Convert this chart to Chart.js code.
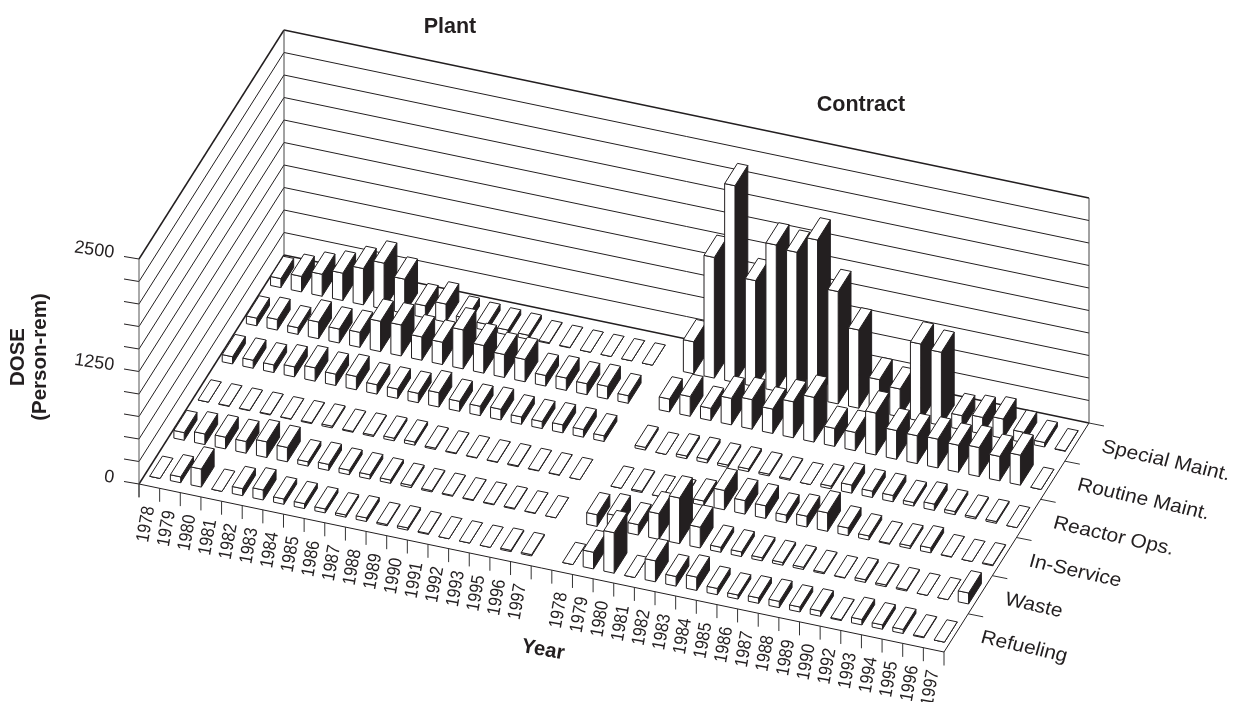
<!DOCTYPE html>
<html><head><meta charset="utf-8">
<style>html,body{margin:0;padding:0;background:#fff}canvas{display:block}</style>
<script src="https://cdn.jsdelivr.net/npm/chart.js@4"></script>
</head><body><canvas id="c" width="1233" height="702"></canvas>
<script>
const plantYears=[1978,1979,1980,1981,1982,1983,1984,1985,1986,1987,1988,1989,1990,1991,1992,1993,1995,1996,1997];
const contractYears=[1978,1979,1980,1981,1982,1983,1984,1985,1986,1987,1988,1989,1990,1992,1993,1994,1995,1996,1997];
const categories=['Refueling','Waste','In-Service','Reactor Ops.','Routine Maint.','Special Maint.'];
const doseTicks=[0,250,500,750,1000,1250,1500,1750,2000,2250,2500];
const doseLabels=[0,1250,2500];

const plantSpecial=[100,172,244,304,403,511,381,133,200,90,70,55,45,10,5,0,0,0,0];
const plantRoutine=[85,118,74,185,155,166,337,344,259,248,433,307,255,248,118,137,122,140,85];
const plantReactor=[80,89,85,111,148,126,148,104,104,104,159,111,104,118,81,78,89,85,63];
const plantInService=[0,5,5,8,5,10,20,10,15,30,35,15,8,5,5,10,5,5,0];
const plantWaste=[85,118,130,130,174,159,48,67,50,48,37,25,15,10,8,8,10,5,0];
const plantRefueling=[0,65,200,0,78,111,59,55,44,25,40,15,25,10,0,0,0,15,15];

const contractSpecial=[355,1340,2185,1178,1622,1589,1773,1248,869,365,309,857,813,157,185,215,115,50,5];
const contractRoutine=[143,218,135,294,328,271,400,497,200,203,466,320,310,320,300,322,271,333,0];
const contractReactor=[30,0,30,40,25,30,20,15,0,30,90,70,70,40,70,35,20,20,0];
const contractInService=[0,15,0,10,50,215,150,140,85,120,205,85,45,10,30,55,5,0,10];
const contractWaste=[130,165,115,285,507,230,55,52,35,30,25,15,5,30,20,15,0,0,122];
const contractRefueling=[0,185,450,0,233,107,148,70,45,60,70,55,58,10,60,48,45,10,0];

const INK='#231f20';
const CELLS=39, ROWS=6, CONTRACT_START=20;
const RX=145/6/(805/39), RY=229/6/0.09, UY=(168/39)/0.09;
function project(chart,u,v,dose){
  const X=u+v*RX, Y=dose-u*UY+v*RY;
  return [chart.scales.x.getPixelForValue(X),chart.scales.y.getPixelForValue(Y)];
}
function poly(ctx,pts,fill,stroke){
  ctx.beginPath();pts.forEach((p,i)=>i?ctx.lineTo(p[0],p[1]):ctx.moveTo(p[0],p[1]));ctx.closePath();
  ctx.fillStyle=fill;ctx.fill();ctx.strokeStyle=stroke;ctx.lineWidth=1;ctx.stroke();
}
class Box3D extends Chart.Element{
  static id='box3d';static defaults={};
  draw(ctx){
    const [a,b,c,d,e,f,g]=this.pts;
    ctx.save();ctx.lineJoin='round';
    poly(ctx,[b,c,f,e],INK,INK);
    poly(ctx,[a,b,e,d],'#fff',INK);
    poly(ctx,[d,e,f,g],'#fff',INK);
    ctx.restore();
  }
}
class Bar3DController extends Chart.DatasetController{
  static id='bar3d';
  static defaults={datasetElementType:false,dataElementType:'box3d'};
  update(){
    const chart=this.chart,ds=this.getDataset(),meta=this._cachedMeta;
    meta.data.forEach((el,i)=>{
      const h=ds.data[i],u1=ds.start+i+0.25,u2=u1+0.5,v1=ds.row+0.23,v2=v1+0.53;
      el.pts=[[u1,v1,0],[u2,v1,0],[u2,v2,0],[u1,v1,h],[u2,v1,h],[u2,v2,h],[u1,v2,h]].map(p=>project(chart,p[0],p[1],p[2]));
      [el.x,el.y]=el.pts[3];
    });
  }
}
Chart.register(Box3D,Bar3DController);

function line(ctx,a,b,w,col){ctx.beginPath();ctx.moveTo(a[0],a[1]);ctx.lineTo(b[0],b[1]);ctx.lineWidth=w;ctx.strokeStyle=col||INK;ctx.stroke();}
function label(ctx,t,x,y,opt){
  ctx.save();
  const ang=(opt.angle||0)*Math.PI/180,c=Math.cos(ang),s=Math.sin(ang),sh=opt.shear||0,sx=opt.sx||1;
  ctx.transform(c*sx,s*sx,-s+sh*c,c+sh*s,x,y);
  ctx.font=opt.font;ctx.fillStyle=INK;ctx.textAlign=opt.align||'left';ctx.textBaseline='middle';
  ctx.fillText(t,0,0);ctx.restore();
}
const frame={id:'frame',
  beforeDatasetsDraw(chart){
    const ctx=chart.ctx,P=(u,v,d)=>project(chart,u,v,d),top=doseTicks[doseTicks.length-1];
    ctx.save();ctx.lineCap='butt';
    doseTicks.forEach(d=>{
      const edge=d===0||d===top,w=edge?1.5:1;
      line(ctx,P(0,0,d),P(0,ROWS,d),w);
      line(ctx,P(0,ROWS,d),P(CELLS,ROWS,d),w);
      const a=P(0,0,d);line(ctx,[a[0]-15,a[1]-2.5],a,1);
    });
    line(ctx,P(0,0,-145),P(0,0,top),1,'#555');
    line(ctx,P(0,ROWS,0),P(0,ROWS,top),1,'#444');
    line(ctx,P(CELLS,ROWS,0),P(CELLS,ROWS,top),1,'#444');
    line(ctx,P(0,0,0),P(CELLS,0,0),1);
    line(ctx,P(CELLS,0,0),P(CELLS,ROWS,0),1);
    for(let i=0;i<=CELLS;i++){line(ctx,P(i,0,0),P(i,0,-150),1,'#333');}
    for(let j=0;j<=ROWS;j++){const a=P(CELLS,j,0);if(j)line(ctx,a,[a[0]+15,a[1]+3],1,'#333');}
    ctx.restore();
  },
  afterDatasetsDraw(chart){
    const ctx=chart.ctx,P=(u,v,d)=>project(chart,u,v,d);
    const yf='18.5px "Liberation Sans"';
    const yearLabel=(y,i)=>{const p=P(i+0.5,0,-225);label(ctx,String(y),p[0],p[1],{angle:-80,sx:0.88,font:yf,align:'right'});};
    plantYears.forEach((y,i)=>yearLabel(y,i));
    contractYears.forEach((y,i)=>yearLabel(y,i+CONTRACT_START));
    categories.forEach((t,j)=>{const p=P(CELLS,j+0.5,0);label(ctx,t,p[0]+25,p[1]+4.5,{angle:12.7,shear:-0.05,sx:1.07,font:'19.5px "Liberation Sans"'});});
    doseLabels.forEach(d=>{const p=P(0,0,d);label(ctx,String(d),p[0]-25,p[1]-6,{angle:8,font:'18px "Liberation Sans"',align:'right'});});
    label(ctx,'DOSE',18,357,{angle:-90,font:'bold 20.5px "Liberation Sans"',align:'center'});
    label(ctx,'(Person-rem)',40,357,{angle:-90,font:'bold 20.5px "Liberation Sans"',align:'center'});
    label(ctx,'Plant',450,27,{font:'bold 21.5px "Liberation Sans"',align:'center'});
    label(ctx,'Contract',861,105,{font:'bold 21.5px "Liberation Sans"',align:'center'});
    label(ctx,'Year',543,650,{angle:10,font:'bold 20.5px "Liberation Sans"',align:'center'});
  }
};
const row=(label,data,start,r)=>({type:'bar3d',label,data,start,row:r});
new Chart(document.getElementById('c'),{
  type:'bar3d',
  data:{labels:plantYears,datasets:[
    row('Plant Refueling',plantRefueling,0,0),row('Contract Refueling',contractRefueling,CONTRACT_START,0),
    row('Plant Waste',plantWaste,0,1),row('Contract Waste',contractWaste,CONTRACT_START,1),
    row('Plant In-Service',plantInService,0,2),row('Contract In-Service',contractInService,CONTRACT_START,2),
    row('Plant Reactor Ops.',plantReactor,0,3),row('Contract Reactor Ops.',contractReactor,CONTRACT_START,3),
    row('Plant Routine Maint.',plantRoutine,0,4),row('Contract Routine Maint.',contractRoutine,CONTRACT_START,4),
    row('Plant Special Maint.',plantSpecial,0,5),row('Contract Special Maint.',contractSpecial,CONTRACT_START,5)
  ]},
  options:{responsive:false,animation:false,events:[],
    layout:{padding:0},
    plugins:{legend:{display:false},tooltip:{enabled:false},title:{display:false}},
    scales:{
      x:{type:'linear',display:false,min:-139/(805/39),max:(1233-139)/(805/39)},
      y:{type:'linear',display:false,min:-(702-484)/0.09,max:484/0.09}
    }
  },
  plugins:[frame]
});
</script></body></html>
